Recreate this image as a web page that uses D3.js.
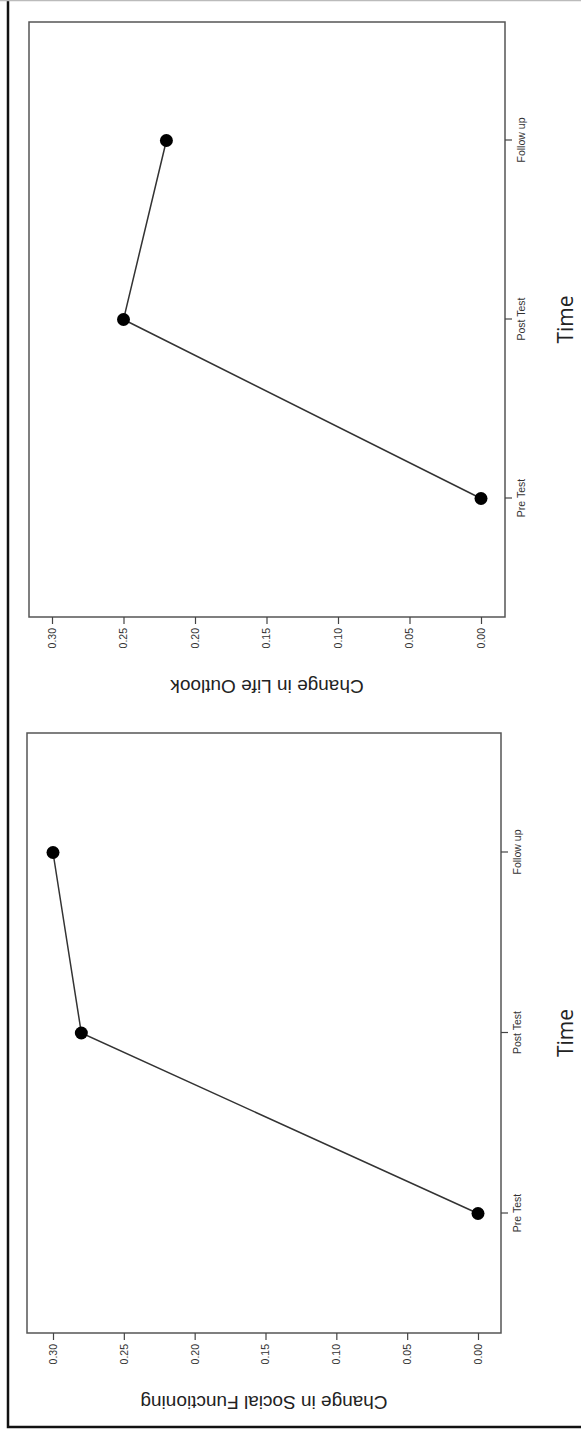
<!DOCTYPE html>
<html>
<head>
<meta charset="utf-8">
<script src="https://cdn.jsdelivr.net/npm/d3@7"></script>
<style>
    html, body { margin: 0; padding: 0; background: #fff; }
    svg { display: block; }
    .tick text { font-family: 'Liberation Sans', Arial, sans-serif; font-size: 10.5px; fill: #333; }
    .tick line { stroke: #444; stroke-width: 1.2; }
    .frame { fill: none; stroke: #555; stroke-width: 1.5; }
    .link { fill: none; stroke: #333; stroke-width: 1.5; }
    .dot { fill: #000; }
    .y-title { font-family: 'Liberation Sans', Arial, sans-serif; font-size: 19px; fill: #222; }
    .x-title { font-family: 'Open Sans', sans-serif; font-size: 21px; fill: #222; }
</style>
</head>
<body>
<div id="dataChart"></div>
<script>
const timepoints = ['Pre Test', 'Post Test', 'Follow up']
const socialFunctioning = [0.00, 0.28, 0.30]
const lifeOutlook = [0.00, 0.25, 0.22]
const yTicks = [0.00, 0.05, 0.10, 0.15, 0.20, 0.25, 0.30]

document.addEventListener('DOMContentLoaded', (event) => {
    onLoad()
});

function onLoad() {
    const viewWidth = 581
    const viewHeight = 1433

    const root = d3.select('#dataChart')
        .append('svg')
        .attr('width', viewWidth)
        .attr('height', viewHeight)

    // the figure is a landscape page turned a quarter turn anticlockwise
    const svg = root.append('g')
        .attr('transform', `translate(0, ${viewHeight}) rotate(-90)`)

    // outer page border
    svg.append('rect')
        .attr('x', 6)
        .attr('y', 8)
        .attr('width', 1460)
        .attr('height', 620)
        .attr('fill', 'none')
        .attr('stroke', '#111')
        .attr('stroke-width', 2.5)
    svg.append('line')
        .attr('x1', 1432.5).attr('x2', 1432.5)
        .attr('y1', 0).attr('y2', viewWidth)
        .attr('stroke', '#bbb')
        .attr('stroke-width', 1.5)

    const panels = [
        { values: socialFunctioning, title: 'Change in Social Functioning', left: 100, right: 700, top: 27, bottom: 501, yHigh: 53, yLow: 478 },
        { values: lifeOutlook, title: 'Change in Life Outlook', left: 816, right: 1411, top: 29, bottom: 505, yHigh: 52, yLow: 481 },
    ]

    for (const panel of panels) {
        const g = svg.append('g')

        const x = d3.scalePoint()
            .domain(timepoints)
            .range([panel.left, panel.right])
            .padding(0.662)
        const y = d3.scaleLinear()
            .domain([0, 0.30])
            .range([panel.yLow, panel.yHigh])

        g.append('rect')
            .attr('class', 'frame')
            .attr('x', panel.left)
            .attr('y', panel.top)
            .attr('width', panel.right - panel.left)
            .attr('height', panel.bottom - panel.top)

        const yAxis = g.append('g')
            .attr('transform', `translate(${panel.left}, 0)`)
            .call(d3.axisLeft(y)
                .tickValues(yTicks)
                .tickFormat(d3.format('.2f'))
                .tickSize(7)
                .tickPadding(4))
        yAxis.select('.domain').remove()

        const xAxis = g.append('g')
            .attr('transform', `translate(0, ${panel.bottom})`)
            .call(d3.axisBottom(x)
                .tickSize(7)
                .tickPadding(6))
        xAxis.select('.domain').remove()

        const points = timepoints.map((t, i) => ({ time: t, value: panel.values[i] }))

        g.append('path')
            .datum(points)
            .attr('class', 'link')
            .attr('d', d3.line()
                .x(d => x(d.time))
                .y(d => y(d.value)))

        g.selectAll('circle')
            .data(points)
            .enter()
            .append('circle')
            .attr('class', 'dot')
            .attr('cx', d => x(d.time))
            .attr('cy', d => y(d.value))
            .attr('r', 6.5)

        g.append('text')
            .attr('class', 'y-title')
            .attr('transform', `translate(${panel.left - 63}, ${(panel.top + panel.bottom) / 2}) rotate(-90)`)
            .attr('text-anchor', 'middle')
            .text(panel.title)

        g.append('text')
            .attr('class', 'x-title')
            .attr('x', x('Post Test'))
            .attr('y', 573)
            .attr('text-anchor', 'middle')
            .text('Time')
    }
}
</script>
</body>
</html>
